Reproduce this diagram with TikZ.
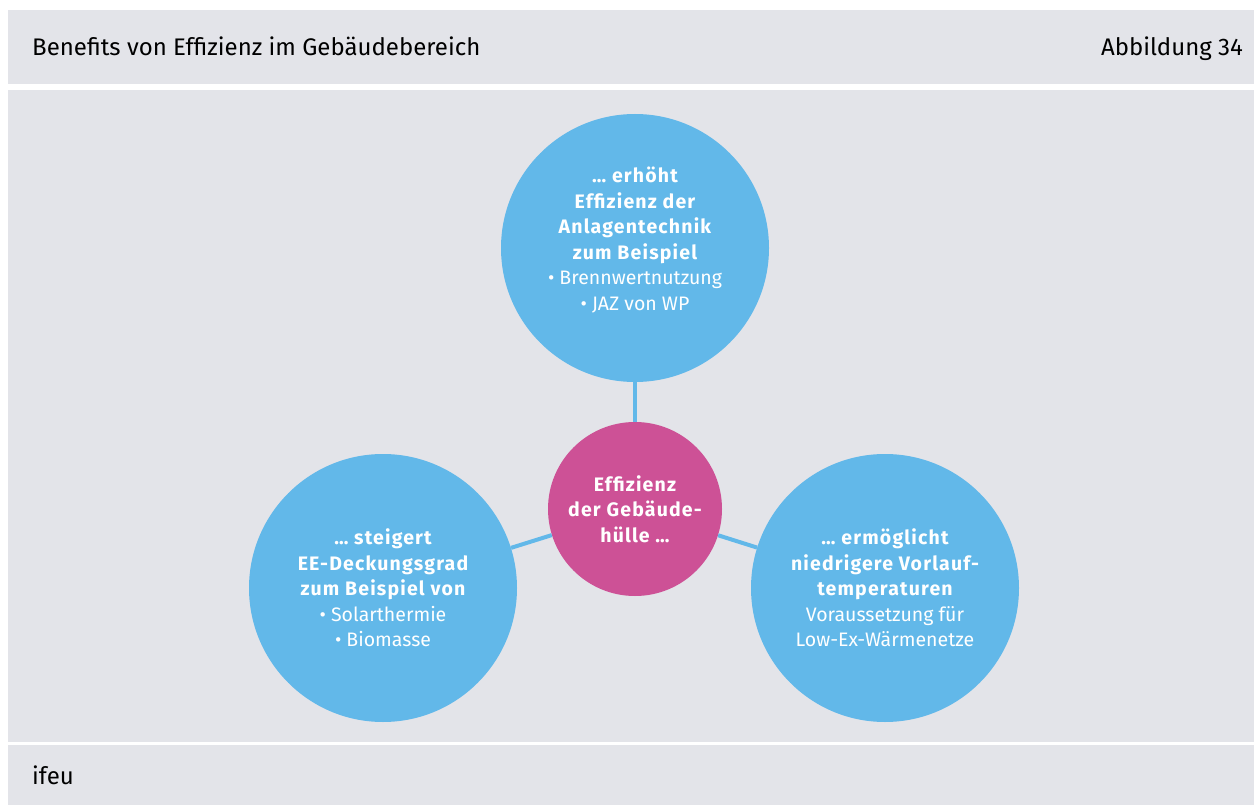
\documentclass[tikz,border=0pt]{standalone}
\usepackage{fontspec}
\setmainfont{Fira Sans}[BoldFeatures={LetterSpace=6}]
\usetikzlibrary{positioning}
\definecolor{bandgray}{HTML}{E3E4E9}
\definecolor{bubbleblue}{HTML}{62B8E9}
\definecolor{hullmagenta}{HTML}{CD5196}

\begin{document}
\begin{tikzpicture}[
  x=1pt, y=-1pt,
  band/.style={fill=bandgray, draw=none},
  bubble/.style={circle, fill=bubbleblue, minimum size=268pt, inner sep=0pt,
                 align=center, text=white, font=\fontsize{19.5}{25.5}\selectfont},
  core/.style={circle, fill=hullmagenta, minimum size=174pt, inner sep=0pt,
               align=center, text=white, font=\fontsize{19.5}{25.5}\selectfont},
  txt/.style={align=center, text=white, inner sep=0pt,
              font=\fontsize{19.5}{25.5}\selectfont},
  link/.style={draw=bubbleblue, line width=4pt},
  head/.style={font=\fontsize{24}{28}\selectfont, inner sep=0pt}
]
\useasboundingbox (0,0) rectangle (1254,805);
% bands
\fill[band] (8,10) rectangle (1254,84);
\fill[band] (8,90) rectangle (1254,742);
\fill[band] (8,745) rectangle (1254,805);
\node (title) [head, anchor=base west] at (32,56) {Benefits von Effizienz im Gebäudebereich};
\node (fignum) [head, anchor=base east] at (1243,56) {Abbildung 34};
\node (source) [head, anchor=base west] at (32,784) {ifeu};
% circles
\node (hull) [core] at (635,509)
  {\bfseries Effizienz\\ \bfseries der Gebäude-\\ \bfseries hülle \dots};
\node (plant) [bubble] at (635,248) {};
\node (plantlbl) [txt] at ([yshift=8pt]plant.center)
  {\bfseries \dots\ erhöht\\ \bfseries Effizienz der\\ \bfseries Anlagentechnik\\
   \bfseries zum Beispiel\\ • Brennwertnutzung\\ • JAZ von WP};
\node (renew) [bubble] at (383,588)
  {\bfseries \dots\ steigert\\ \bfseries EE-Deckungsgrad\\ \bfseries zum Beispiel von\\
   • Solarthermie\\ • Biomasse};
\node (lowtemp) [bubble] at (885,588)
  {\bfseries \dots\ ermöglicht\\ \bfseries niedrigere Vorlauf-\\ \bfseries temperaturen\\
   Voraussetzung für\\ Low-Ex-Wärmenetze};
% links
\draw[link] (hull) -- (plant);
\draw[link] (hull) -- (renew);
\draw[link] (hull) -- (lowtemp);
\end{tikzpicture}
\end{document}
